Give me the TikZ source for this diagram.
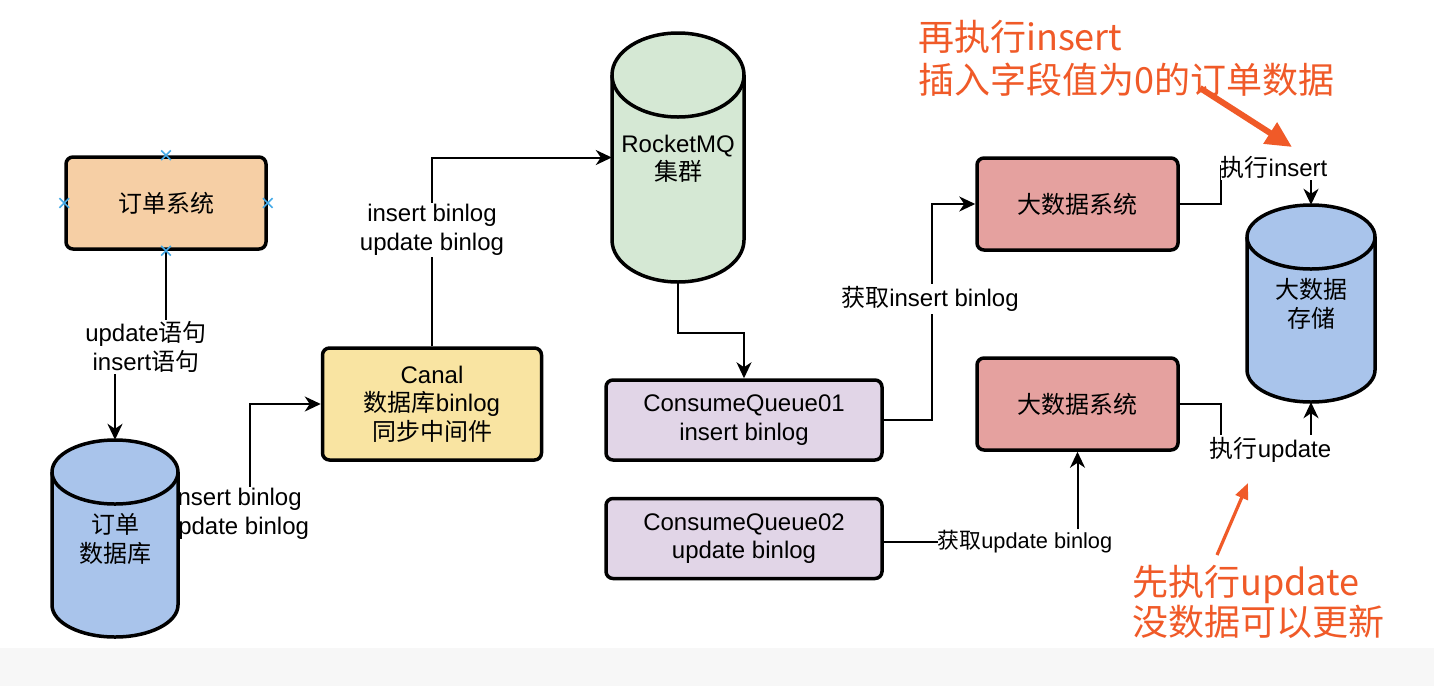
\documentclass[tikz,border=0pt]{standalone}
\usepackage{fontspec}
\setmainfont{Liberation Sans}
\newfontfamily\cjk{Noto Sans CJK SC}
\usetikzlibrary{arrows.meta,calc,shapes.misc}
\definecolor{orderfill}{HTML}{F6CFA5}
\definecolor{canalfill}{HTML}{F9E4A2}
\definecolor{cqfill}{HTML}{E1D5E7}
\definecolor{bdfill}{HTML}{E5A19F}
\definecolor{dbblue}{HTML}{A9C4EB}
\definecolor{mqgreen}{HTML}{D5E8D4}
\definecolor{orangeC}{HTML}{F05A28}
\definecolor{selblue}{HTML}{45AAE8}
\definecolor{bottomgray}{HTML}{F7F7F7}
% cylinder outline: cx, top, bottom, rx, ry, fill
\newcommand\cylshape[6]{%
  \filldraw[fill=#6,draw=black,line width=3.5pt]
    (#1-#4,#2+#5) -- (#1-#4,#3-#5)
    arc[start angle=180,end angle=360,x radius=#4pt,y radius=#5pt]
    -- (#1+#4,#2+#5)
    arc[start angle=0,end angle=180,x radius=#4pt,y radius=#5pt] -- cycle;
  \draw[line width=3.5pt] (#1-#4,#2+#5)
    arc[start angle=180,end angle=360,x radius=#4pt,y radius=#5pt];
}
\begin{document}
\begin{tikzpicture}[x=1pt,y=-1pt,
  box/.style={draw=black, line width=3.5pt, rounded corners=7pt, align=center,
    inner sep=0pt, font=\fontsize{24}{28.5}\selectfont},
  cylbox/.style={inner sep=0pt, draw=none},
  cyltext/.style={align=center, inner sep=0pt, font=\fontsize{24}{28.5}\selectfont},
  conn/.style={draw=black, line width=2pt, -{Stealth[length=16pt,width=15pt,inset=5pt]}},
  lbl/.style={fill=white, align=center, inner xsep=0pt, inner ysep=2pt,
    font=\fontsize{24}{28.5}\selectfont},
  lblsmall/.style={lbl, font=\fontsize{21.8}{26}\selectfont},
  selmark/.style={cross out, draw=selblue, line width=1.6pt, minimum size=8pt, inner sep=0pt},
  note/.style={text=orangeC, align=left, inner sep=0pt, anchor=north west},
  oarrow/.style={draw=orangeC, line width=6pt, -{Triangle[length=26pt,width=24pt]}},
  oarrowthin/.style={draw=orangeC, line width=3.2pt, -{Triangle[length=16pt,width=13pt]}}
]
\useasboundingbox (0,0) rectangle (1434,686);
\fill[white] (0,0) rectangle (1434,686);
\fill[bottomgray] (0,648) rectangle (1434,686);

% boxes
\node[box, fill=orderfill, minimum width=200, minimum height=92] (order) at (166,203) {{\cjk 订单系统}};
\node[box, fill=canalfill, minimum width=219, minimum height=112] (canal) at (432,404) {Canal\\{\cjk 数据库}binlog\\{\cjk 同步中间件}};
\node[box, fill=cqfill, minimum width=276, minimum height=80] (cq1) at (744,420) {ConsumeQueue01\\insert binlog};
\node[box, fill=cqfill, minimum width=276, minimum height=80] (cq2) at (744,538.5) {ConsumeQueue02\\update binlog};
\node[box, fill=bdfill, minimum width=201, minimum height=92] (bd1) at (1077.5,204) {{\cjk 大数据系统}};
\node[box, fill=bdfill, minimum width=201, minimum height=92] (bd2) at (1077.5,404) {{\cjk 大数据系统}};

% cylinder frames (named, invisible)
\node[cylbox, minimum width=126, minimum height=197] (db) at (115,538.5) {};
\node[cylbox, minimum width=132, minimum height=249] (mq) at (678,157.5) {};
\node[cylbox, minimum width=128, minimum height=197] (store) at (1311,303.5) {};

% edge db -> canal (label lies under the cylinder)
\draw[conn] ([yshift=25pt]db.east) -- ++(72,0) |- (canal.west);
\node[lbl] (l2) at (237,514) {insert binlog\\update binlog};

% cylinders
\cylshape{115}{440}{637}{63}{32}{dbblue}
\cylshape{678}{33}{282}{66}{42}{mqgreen}
\cylshape{1311}{205}{402}{64}{32}{dbblue}
\node[cyltext] (dbtext) at (115,539) {{\cjk 订单}\\{\cjk 数据库}};
\node[cyltext] (mqtext) at (678,159) {RocketMQ\\{\cjk 集群}};
\node[cyltext] (storetext) at (1311,304) {{\cjk 大数据}\\{\cjk 存储}};

% edges
\draw[conn] (order.south) -- ++(0,98) -| (db.north);
\node[lbl] (l1) at (146,347) {update{\cjk 语句}\\insert{\cjk 语句}};

\draw[conn] (canal.north) |- (mq.west);
\node[lbl] (l3) at (432,230) {insert binlog\\update binlog};

\draw[conn] (mq.south) -- ++(0,51) -| (cq1.north);

\draw[conn] (cq1.east) -- ++(48,0) |- (bd1.west);
\node[lbl] (l5) at (930,299) {{\cjk 获取}insert binlog};

\draw[conn] ([yshift=-3.5pt]cq2.east) -| (bd2.south);
\node[lblsmall] (l6) at (1025,542) {{\cjk 获取}update binlog};

\draw[conn] (bd1.east) -- ++(41,0) -- ++(0,-38) -| (store.north);
\node[lbl] (l7) at (1274,167) {{\cjk 执行}insert};

\draw[conn] (bd2.east) -- ++(41,0) -- ++(0,46) -| (store.south);
\node[lbl] (l8) at (1270.5,450) {{\cjk 执行}update};

% selection markers
\node[selmark] (m1) at (order.north) {};
\node[selmark] (m2) at (order.west) {};
\node[selmark] (m3) at (order.east) {};
\node[selmark] (m4) at (order.south) {};

% orange notes
\node[note, font=\cjk\fontsize{36}{43}\selectfont] (n1) at (918,20) {再执行insert\\插入字段值为0的订单数据};
\node[note, font=\cjk\fontsize{36}{36.5}\selectfont] (n2) at (1132,565) {先执行update\\没数据可以更新};
\coordinate (a1s) at (1200,88);
\coordinate (a1e) at (1292,147);
\coordinate (a2s) at (1217,555);
\coordinate (a2e) at (1248,483);
\draw[oarrow] (a1s) -- (a1e);
\draw[oarrowthin] (a2s) -- (a2e);
\end{tikzpicture}
\end{document}
